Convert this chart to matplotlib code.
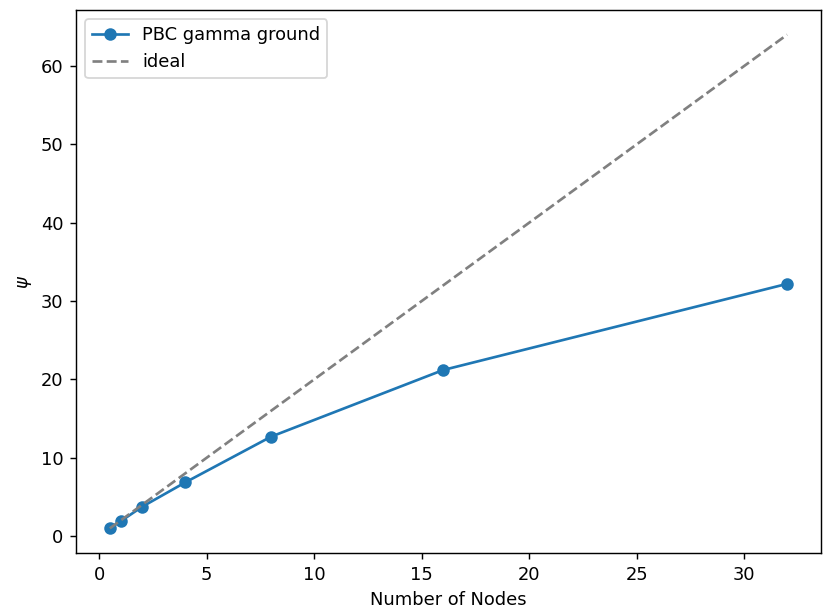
import matplotlib
matplotlib.use("Agg")
import matplotlib.pyplot as plt

nodes = [0.5, 1, 2, 4, 8, 16, 32]
psi = [1.0, 1.9, 3.75, 6.85, 12.7, 21.2, 32.2]
ideal = [1, 2, 4, 8, 16, 32, 64]

dpi = 128.6
fig = plt.figure(figsize=(823 / dpi, 607 / dpi), dpi=dpi)
ax = fig.add_axes([76 / 823, 54 / 607, 745 / 823, 543 / 607])
ax.plot(nodes, psi, marker='o', label='PBC gamma ground')
ax.plot(nodes, ideal, linestyle='--', color='grey', label='ideal')
ax.set_xlabel('Number of Nodes')
ax.set_ylabel(r'$\psi$')
ax.legend(loc='upper left')
fig.savefig('out.png', dpi=dpi)
